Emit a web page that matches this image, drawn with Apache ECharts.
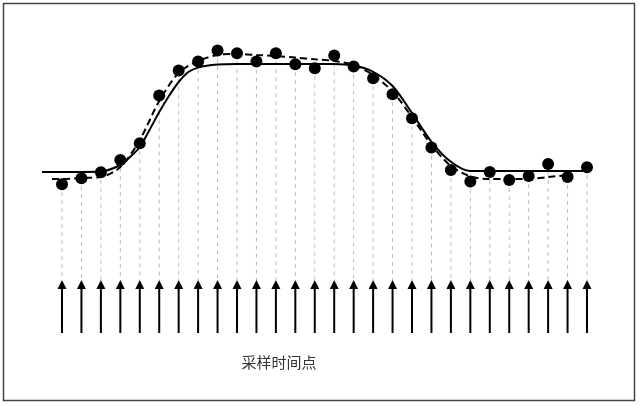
<!DOCTYPE html>
<html>
<head>
<meta charset="utf-8">
<script src="https://cdn.jsdelivr.net/npm/echarts@6/dist/echarts.min.js"></script>
<style>
  html, body { margin: 0; padding: 0; background: #fff; }
  #chart { width: 640px; height: 406px; }
</style>
</head>
<body>
<div id="chart"></div>
<script>
// sampled values (dots), one per sampling instant
const sampleValues = [12.9, 15.9, 18.9, 25, 33.4, 57.2, 69.7, 74.2, 79.7, 78.4,
  74.2, 78.4, 72.9, 70.9, 77.2, 71.7, 65.9, 57.9, 45.9, 31.2,
  20, 14.2, 19, 15, 17, 23, 16.5, 21.4];

// ideal signal (solid) [sample index, level]
const idealCurve = [[-1.03, 19], [0, 19], [1, 19], [2, 19.2], [3, 22.5], [3.5, 26.5],
  [4, 31.5], [4.5, 40], [5, 49], [5.5, 57], [6, 64], [6.5, 69], [7, 71.2], [8, 72.7],
  [9, 73], [10, 73], [11, 73], [12, 73], [13, 73], [14, 73], [15, 72.2], [16, 69.1],
  [17, 62], [18, 48.5], [19, 34.1], [20, 24.1], [21, 19.5], [22, 19.5], [23, 19.5],
  [24, 19.5], [25, 19.5], [26, 19.5], [27, 19.5], [27.15, 19.5]];

// fitted curve through samples (dashed)
const fittedCurve = [[-0.51, 15.5], [0, 15.5], [1, 16], [2, 16.5], [3, 21.5], [4, 35],
  [5, 54.5], [6, 68.5], [7, 74.5], [8, 77.5], [9, 78], [10, 77.5], [11, 77],
  [12, 76.2], [13, 75.4], [14, 74.5], [15, 72.5], [16, 67.5], [17, 59.2], [18, 46.5],
  [19, 32.5], [20, 22], [21, 16.8], [22, 15.5], [23, 15.5], [24, 15.5], [25, 16.5],
  [26, 17.5], [26.25, 18]];

// arrow levels (below the signal)
const arrowHead = -35;
const arrowBase = -61.5;

const xLabel = '采样时间点';

const chart = echarts.init(document.getElementById('chart'));

const samplePoints = sampleValues.map((v, i) => [i, v]);

chart.setOption({
  animation: false,
  grid: { left: 23.11, right: 14.11, top: 30, bottom: 36 },
  xAxis: { type: 'value', min: -2, max: 29, show: false },
  yAxis: { type: 'value', min: -80, max: 90, show: false },
  graphic: [
    {
      type: 'rect',
      shape: { x: 3.5, y: 3.5, width: 631, height: 397 },
      style: { fill: 'none', stroke: '#444', lineWidth: 1.5 }
    },
    {
      type: 'text',
      x: 279, y: 362,
      style: {
        text: xLabel,
        fill: '#333',
        font: '15px "Noto Sans CJK SC"',
        textAlign: 'center',
        textVerticalAlign: 'middle'
      }
    }
  ],
  series: [
    {
      // guide lines + sampling arrows
      type: 'custom',
      data: samplePoints,
      z: 1,
      renderItem: function (params, api) {
        const i = api.value(0);
        const top = api.coord([i, api.value(1)]);
        const head = api.coord([i, arrowHead]);
        const base = api.coord([i, arrowBase]);
        return {
          type: 'group',
          children: [
            {
              type: 'line',
              shape: { x1: top[0], y1: top[1], x2: head[0], y2: head[1] },
              style: { stroke: '#bbb', lineWidth: 1, lineDash: [4, 4] }
            },
            {
              type: 'line',
              shape: { x1: base[0], y1: base[1], x2: head[0], y2: head[1] + 6 },
              style: { stroke: '#000', lineWidth: 2 }
            },
            {
              type: 'polygon',
              shape: { points: [[head[0], head[1]], [head[0] - 4.5, head[1] + 9], [head[0] + 4.5, head[1] + 9]] },
              style: { fill: '#000' }
            }
          ]
        };
      }
    },
    {
      type: 'line',
      data: idealCurve,
      smooth: 0.3,
      showSymbol: false,
      z: 2,
      lineStyle: { color: '#000', width: 2 }
    },
    {
      type: 'line',
      data: fittedCurve,
      smooth: 0.3,
      showSymbol: false,
      z: 3,
      lineStyle: { color: '#000', width: 2, type: [7, 4] }
    },
    {
      type: 'scatter',
      data: samplePoints,
      symbolSize: 12,
      z: 4,
      itemStyle: { color: '#000', opacity: 1 }
    }
  ]
});
</script>
</body>
</html>
